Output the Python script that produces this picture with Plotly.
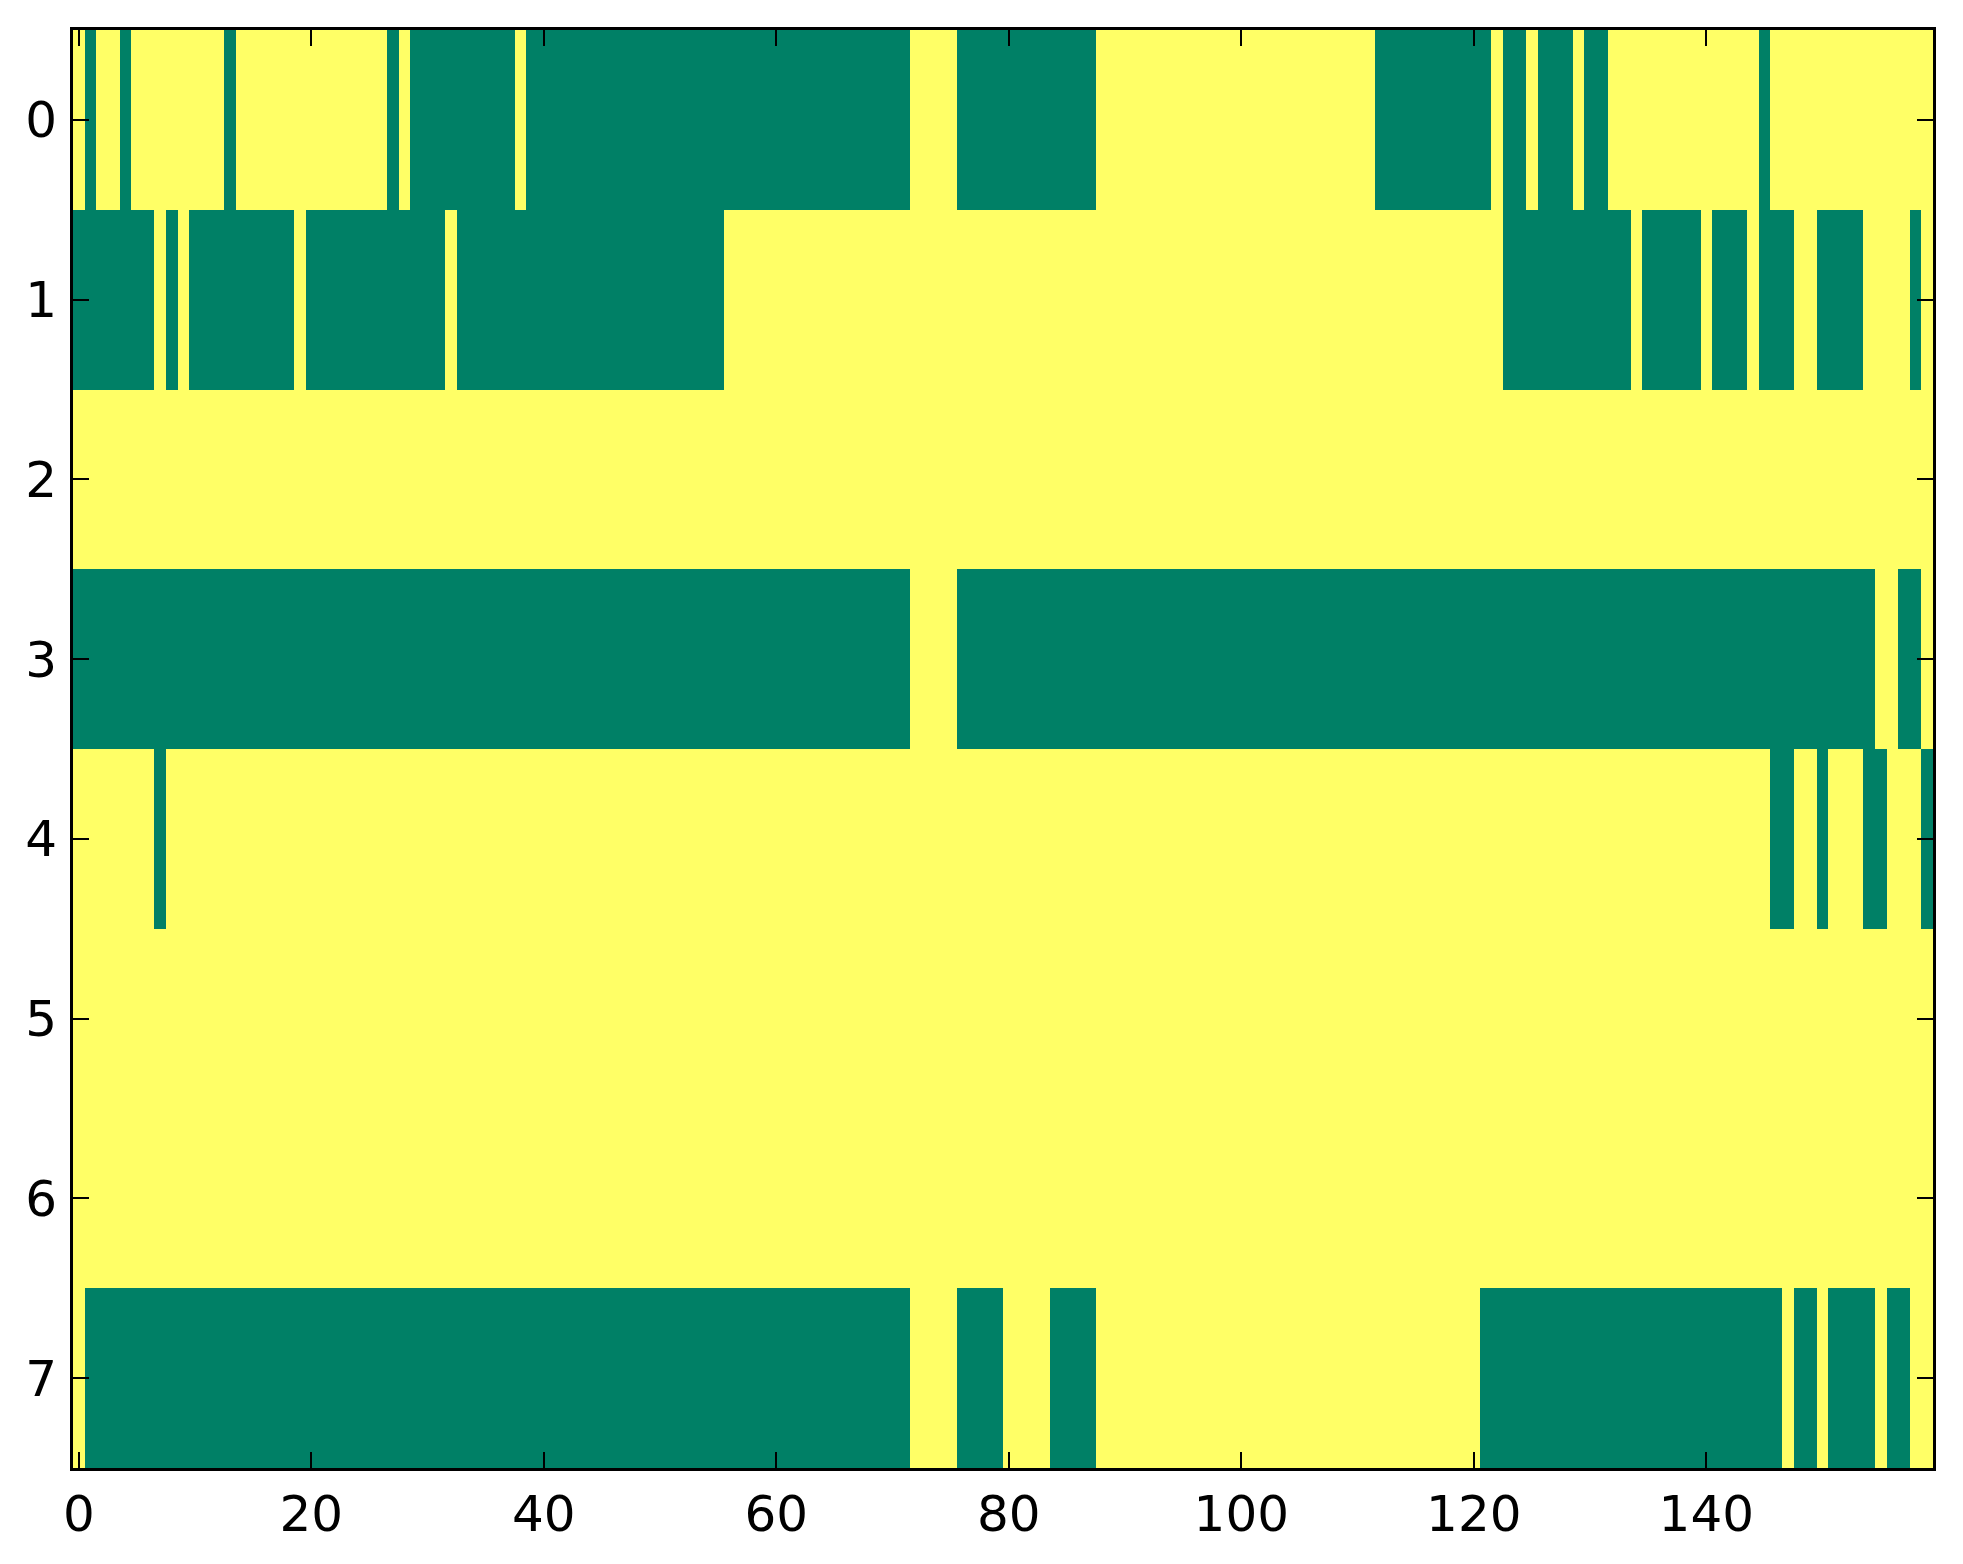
"""
Binary occupancy map: 8 channels x 160 samples, drawn as a heatmap
(0 = green, 1 = yellow, matplotlib 'summer' colours).
"""

import numpy as np
import plotly.graph_objects as go

n_rows = 8
n_cols = 160

# Runs of "0" cells (start, end inclusive) per row; everything else is 1
row0_zero_runs = [(1, 1), (4, 4), (13, 13), (27, 27), (29, 37), (39, 71),
                  (76, 87), (112, 121), (123, 124), (126, 128), (130, 131),
                  (145, 145)]
row1_zero_runs = [(0, 6), (8, 8), (10, 18), (20, 31), (33, 55), (123, 133),
                  (135, 139), (141, 143), (145, 147), (150, 153), (158, 158)]
row2_zero_runs = []
row3_zero_runs = [(0, 71), (76, 154), (157, 158)]
row4_zero_runs = [(7, 7), (146, 147), (150, 150), (154, 155), (159, 159)]
row5_zero_runs = []
row6_zero_runs = []
row7_zero_runs = [(1, 71), (76, 79), (84, 87), (121, 146), (148, 149),
                  (151, 154), (156, 157)]

all_runs = [row0_zero_runs, row1_zero_runs, row2_zero_runs, row3_zero_runs,
            row4_zero_runs, row5_zero_runs, row6_zero_runs, row7_zero_runs]

x_ticks = [0, 20, 40, 60, 80, 100, 120, 140]
y_ticks = [0, 1, 2, 3, 4, 5, 6, 7]

# Build the matrix
z = np.ones((n_rows, n_cols))
for r, runs in enumerate(all_runs):
    for start, end in runs:
        z[r, start:end + 1] = 0

summer = [[0.0, '#008066'], [1.0, '#ffff66']]

fig = go.Figure()
fig.add_trace(go.Heatmap(
    z=z.tolist(),
    x=list(range(n_cols)),
    y=list(range(n_rows)),
    zmin=0, zmax=1,
    colorscale=summer,
    showscale=False,
    hoverinfo='x+y+z'
))

axis_style = dict(
    showgrid=False,
    zeroline=False,
    showline=True,
    linecolor='black',
    linewidth=3,
    mirror='allticks',
    ticks='inside',
    ticklen=16,
    tickwidth=1.5,
    tickcolor='black',
    tickfont=dict(family='DejaVu Sans', size=50, color='black'),
)

fig.update_xaxes(
    range=[-0.5, n_cols - 0.5],
    tickvals=x_ticks,
    ticklabelstandoff=0,
    **axis_style
)
fig.update_yaxes(
    range=[n_rows - 0.5, -0.5],
    tickvals=y_ticks,
    ticklabelstandoff=3,
    **axis_style
)

# the page body adds 8px around the figure, so margins are trimmed by that
fig.update_layout(
    width=1963,
    height=1564,
    margin=dict(l=65, r=38, t=22, b=104),
    plot_bgcolor='white',
    paper_bgcolor='white',
    showlegend=False,
)

fig.write_html("out.html")
